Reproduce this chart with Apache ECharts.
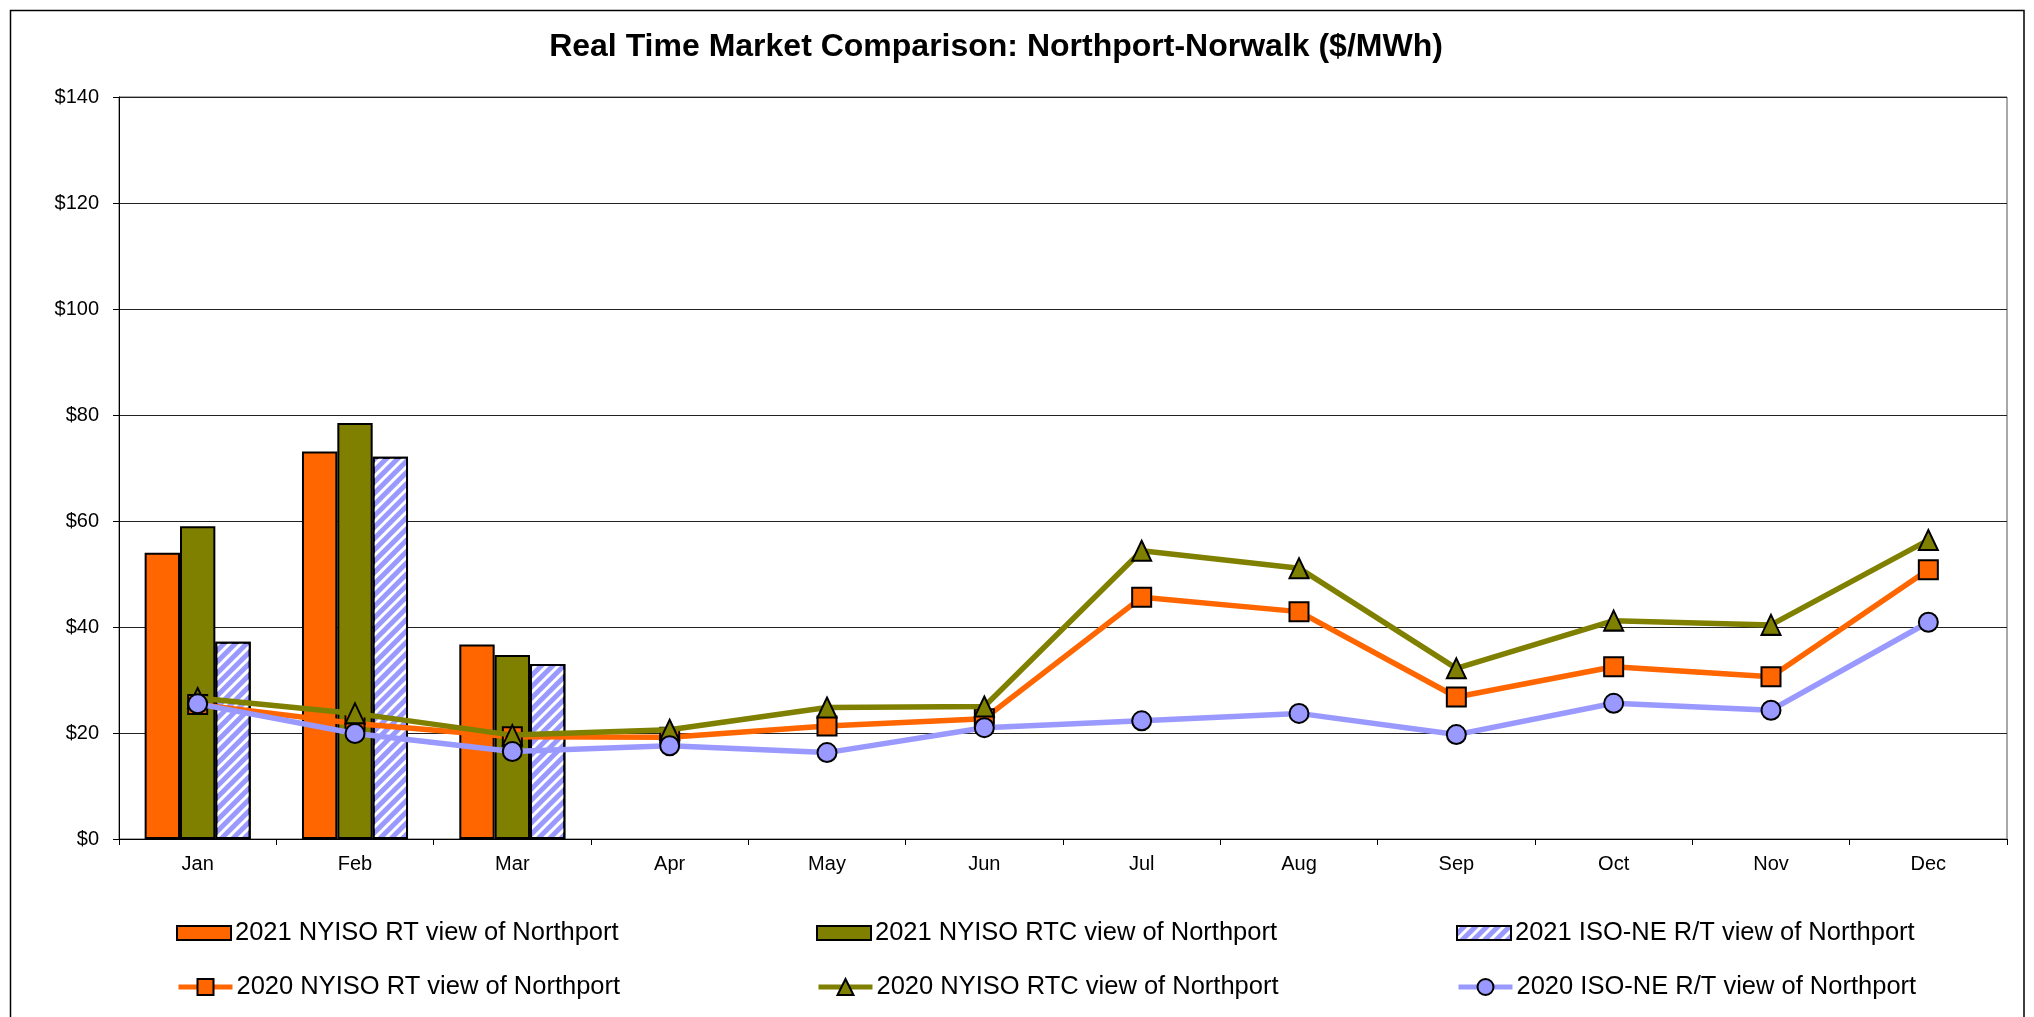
<!DOCTYPE html>
<html>
<head>
<meta charset="utf-8">
<title>Real Time Market Comparison</title>
<script src="https://cdn.jsdelivr.net/npm/echarts@6/dist/echarts.min.js"></script>
<style>
  html, body { margin: 0; padding: 0; background: #fff; }
  #chart { width: 2034px; height: 1017px; }
</style>
</head>
<body>
<div id="chart"></div>
<script>
const months = ['Jan', 'Feb', 'Mar', 'Apr', 'May', 'Jun', 'Jul', 'Aug', 'Sep', 'Oct', 'Nov', 'Dec'];

// 2021 bars (only Jan - Mar so far)
const rt2021 = [54.0, 73.1, 36.7];
const rtc2021 = [59.0, 78.5, 34.7];
const isone2021 = [37.2, 72.1, 33.0];

// 2020 lines
const rt2020 = [25.4, 21.8, 19.3, 19.2, 21.3, 22.7, 45.6, 42.9, 26.8, 32.5, 30.6, 50.8];
const rtc2020 = [26.6, 23.7, 19.6, 20.6, 24.8, 25.0, 54.4, 51.1, 32.2, 41.2, 40.4, 56.4];
const isone2020 = [25.5, 19.9, 16.5, 17.6, 16.3, 21.0, 22.3, 23.7, 19.7, 25.6, 24.3, 40.9];

const yTicks = [0, 20, 40, 60, 80, 100, 120, 140];

const names = [
  '2021 NYISO RT view of Northport',
  '2021 NYISO RTC view of Northport',
  '2021 ISO-NE R/T view of Northport',
  '2020 NYISO RT view of Northport',
  '2020 NYISO RTC view of Northport',
  '2020 ISO-NE R/T view of Northport'
];

const ORANGE = '#FF6600';
const OLIVE = '#808000';
const LILAC = '#9999FF';
const FONT = 'Liberation Sans, Arial, sans-serif';

const chart = echarts.init(document.getElementById('chart'), null, { renderer: 'canvas' });

// one legend per entry so the 3x2 grid lines up like the original
function legendItem(left, top, item, h) {
  return {
    left: left,
    top: top,
    itemWidth: 54,
    itemHeight: h,
    selectedMode: false,
    padding: 0,
    lineStyle: { width: 5 },
    textStyle: { fontFamily: FONT, fontSize: 25.5, color: '#000', lineHeight: 26, padding: [0, 0, 0, -1] },
    data: [item]
  };
}

const barBase = { borderColor: '#000', borderWidth: 2 };

const option = {
  backgroundColor: '#fff',
  animation: false,
  title: {
    text: 'Real Time Market Comparison: Northport-Norwalk ($/MWh)',
    left: 991,
    textAlign: 'center',
    top: 26,
    textStyle: { fontFamily: FONT, fontSize: 32, fontWeight: 'bold', color: '#000' }
  },
  graphic: [{
    type: 'rect',
    shape: { x: 10.5, y: 10.5, width: 2013.5, height: 1030 },
    style: { fill: null, stroke: '#000', lineWidth: 1.5 },
    silent: true,
    z: -1
  }],
  legend: [
    legendItem(176, 920, { name: names[0], icon: 'rect' }, 14),
    legendItem(816, 920, { name: names[1], icon: 'rect' }, 14),
    legendItem(1456, 920, { name: names[2], icon: 'rect' }, 14),
    legendItem(176, 974, names[3], 20),
    legendItem(816, 974, names[4], 20),
    legendItem(1456, 974, names[5], 20)
  ],
  grid: {
    left: 119, right: 27, top: 97, bottom: 178,
    show: true, borderColor: '#555', borderWidth: 1, backgroundColor: '#fff'
  },
  xAxis: {
    type: 'category',
    data: months,
    boundaryGap: true,
    axisLine: { lineStyle: { color: '#000', width: 1 } },
    axisTick: { show: true, length: 6, lineStyle: { color: '#000' } },
    axisLabel: { fontFamily: FONT, fontSize: 20, color: '#000', margin: 15 }
  },
  yAxis: {
    type: 'value',
    min: yTicks[0],
    max: yTicks[yTicks.length - 1],
    interval: 20,
    axisLine: { show: true, lineStyle: { color: '#000', width: 1 } },
    axisTick: { show: true, length: 6, lineStyle: { color: '#000' } },
    axisLabel: { fontFamily: FONT, fontSize: 20, color: '#000', margin: 20, formatter: v => '$' + v },
    splitLine: { lineStyle: { color: '#222', width: 1 } }
  },
  series: [
    {
      name: names[0], type: 'bar', data: rt2021,
      barGap: 0, barCategoryGap: '32.6%',
      itemStyle: Object.assign({ color: ORANGE }, barBase)
    },
    {
      name: names[1], type: 'bar', data: rtc2021,
      barGap: 0, barCategoryGap: '32.6%',
      itemStyle: Object.assign({ color: OLIVE }, barBase)
    },
    {
      name: names[2], type: 'bar', data: isone2021,
      barGap: 0, barCategoryGap: '32.6%',
      itemStyle: Object.assign({
        color: LILAC,
        decal: {
          symbol: 'rect', color: '#fff', symbolSize: 1,
          dashArrayX: [1, 0], dashArrayY: [3, 5], rotation: -Math.PI / 4
        }
      }, barBase)
    },
    {
      name: names[3], type: 'line', data: rt2020,
      symbol: 'rect', symbolSize: 19,
      lineStyle: { color: ORANGE, width: 5.5 },
      itemStyle: { color: ORANGE, borderColor: '#000', borderWidth: 2 },
      z: 3
    },
    {
      name: names[4], type: 'line', data: rtc2020,
      symbol: 'triangle', symbolSize: [19, 20],
      lineStyle: { color: OLIVE, width: 5.5 },
      itemStyle: { color: OLIVE, borderColor: '#000', borderWidth: 2 },
      z: 4
    },
    {
      name: names[5], type: 'line', data: isone2020,
      symbol: 'circle', symbolSize: 19,
      lineStyle: { color: LILAC, width: 5.5 },
      itemStyle: { color: LILAC, borderColor: '#000', borderWidth: 2 },
      z: 5
    }
  ]
};

chart.setOption(option);
</script>
</body>
</html>
